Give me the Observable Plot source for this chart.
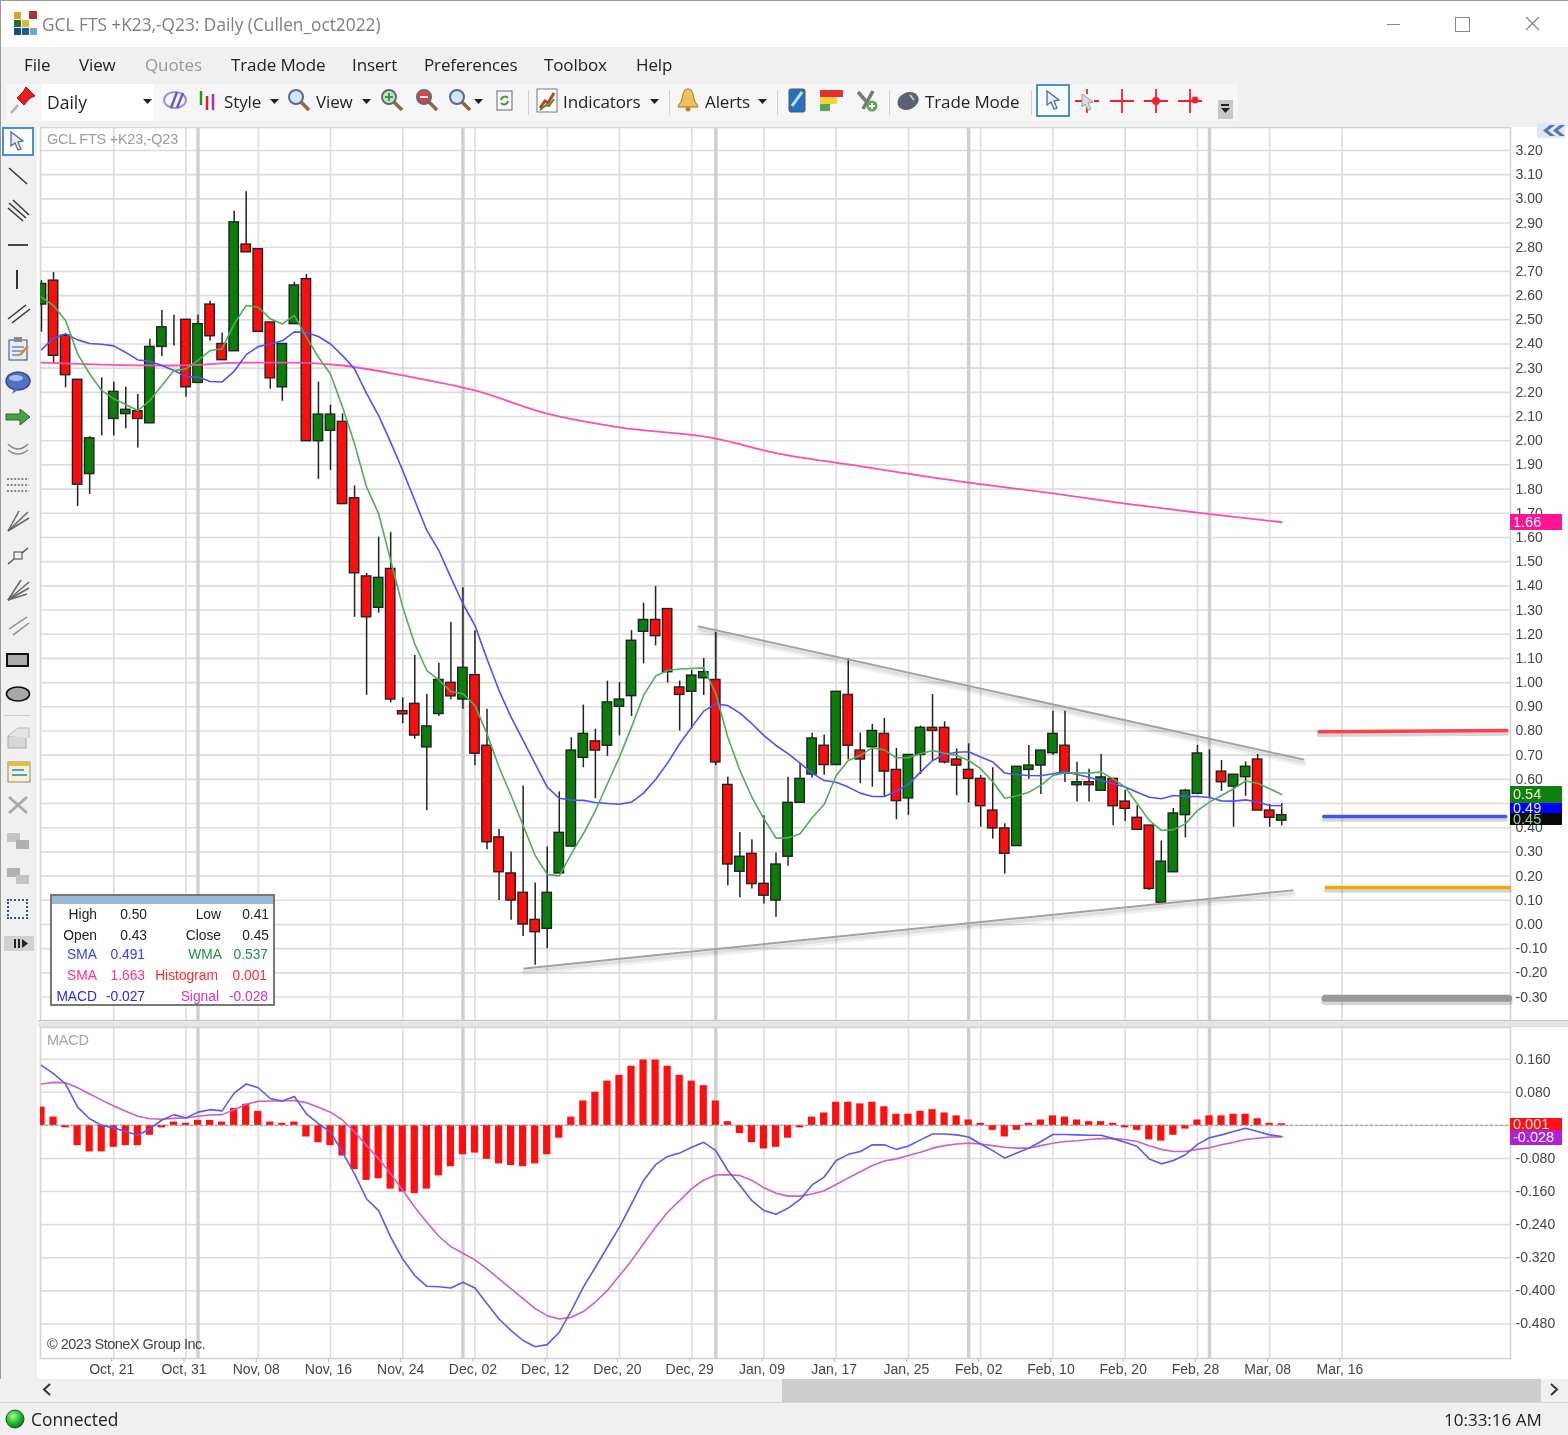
<!DOCTYPE html>
<html>
<head>
<meta charset="utf-8">
<title>GCL FTS +K23,-Q23: Daily</title>
<script src="https://cdn.jsdelivr.net/npm/d3@7"></script>
<script src="https://cdn.jsdelivr.net/npm/@observablehq/plot@0.6"></script>
<style>
html,body{margin:0;padding:0;background:#fff;overflow:hidden}
#root{position:relative;width:1568px;height:1435px;overflow:hidden;background:#fff;font-family:"Open Sans",sans-serif;filter:blur(.4px)}
.t{position:absolute;white-space:nowrap;line-height:1;color:#333}
.b{position:absolute}
.ic{position:absolute;overflow:visible}
.lg{position:absolute;white-space:nowrap;line-height:1;font:13.8px "Liberation Sans",sans-serif;transform:translateX(-100%)}
.tag{position:absolute;left:1510px;width:52px;color:#fff;font:14.5px "Liberation Sans",sans-serif;line-height:1;padding-left:3px;box-sizing:border-box;overflow:hidden}
</style>
</head>
<body>
<div id="root"></div>
<script>
// ---------- price series (daily OHLC of the spread) ----------
const opens = [2.563,2.662,2.434,2.252,1.862,2.107,2.09,2.11,2.122,2.072,2.388,2.482,2.5,2.239,2.563,2.4,2.37,2.811,2.792,2.489,2.221,2.482,2.668,1.998,2.041,2.078,1.762,1.439,1.309,1.47,.882,.912,.732,.87,.999,.93,1.031,.739,.36,.211,.131,.019,-.018,.211,.322,.689,.757,.739,.9,.944,1.21,1.259,1.304,.98,.962,1.018,1.011,.577,.218,.292,.168,.099,.28,.503,.62,.739,.659,.949,.719,.733,.788,.639,.521,.701,.813,.813,.682,.639,.602,.471,.397,.324,.639,.657,.708,.739,.576,.588,.553,.602,.508,.441,.409,.09,.216,.452,.54,.657,.632,.57,.609,.682,.471,.429];
const closes = [2.648,2.351,2.271,1.818,2.01,2.107,2.202,2.128,2.09,2.388,2.469,2.482,2.221,2.482,2.432,2.333,2.903,2.779,2.45,2.258,2.4,2.642,1.998,2.108,2.108,1.738,1.452,1.27,1.433,.93,.869,.781,.819,1.011,.943,1.061,.706,.34,.216,.099,0,-.032,.131,.379,.719,.788,.719,.918,.93,1.173,1.259,1.192,1.043,.949,1.029,1.043,.67,.248,.28,.167,.119,.248,.503,.602,.769,.659,.962,.739,.682,.8,.632,.51,.701,.813,.8,.67,.657,.602,.489,.397,.292,.652,.657,.719,.788,.623,.588,.576,.608,.489,.478,.391,.147,.26,.459,.553,.707,.657,.588,.619,.652,.471,.441,.452];
const highs = [2.662,2.695,2.44,2.252,2.017,2.26,2.242,2.221,2.191,2.42,2.538,2.519,2.5,2.519,2.577,2.445,2.949,3.029,2.792,2.489,2.4,2.655,2.687,2.242,2.147,2.111,1.813,1.452,1.601,1.62,.937,1.112,.951,1.08,1.248,1.392,1.213,.89,.394,.3,.573,.171,.32,.548,.772,.907,.807,1.006,1,1.215,1.328,1.397,1.304,1.006,1.05,1.1,1.207,.609,.38,.35,.449,.295,.609,.667,.791,.783,.962,1.1,.791,.827,.852,.728,.701,.82,.951,.838,.726,.747,.616,.648,.416,.652,.74,.719,.882,.882,.671,.642,.703,.602,.554,.491,.409,.345,.48,.559,.74,.722,.678,.619,.672,.703,.496,.5];
const lows = [2.449,2.321,2.219,1.728,1.778,2.02,2.02,2.05,1.97,2.072,2.348,2.392,2.18,2.239,2.411,2.333,2.37,2.779,2.45,2.213,2.163,2.482,1.998,1.84,1.877,1.738,1.27,.948,1.287,.916,.83,.766,.471,.86,.929,.89,.656,.309,.099,.017,-.05,-.169,-.1,.211,.322,.648,.52,.695,.78,.86,1.078,1.152,.998,.8,.809,.947,.656,.16,.11,.147,.085,.03,.241,.503,.606,.617,.659,.681,.582,.568,.526,.433,.451,.62,.678,.664,.532,.502,.402,.353,.209,.324,.6,.537,.699,.587,.506,.506,.553,.408,.426,.391,.141,.09,.216,.358,.54,.524,.55,.402,.53,.471,.402,.408];
const smaBlue = [2.376,2.424,2.442,2.417,2.402,2.399,2.392,2.365,2.334,2.329,2.311,2.29,2.265,2.263,2.245,2.243,2.287,2.356,2.389,2.4,2.413,2.45,2.447,2.431,2.4,2.352,2.297,2.195,2.104,1.993,1.877,1.753,1.629,1.546,1.434,1.326,1.236,1.098,.967,.857,.761,.664,.568,.522,.514,.513,.504,.5,.497,.506,.543,.599,.668,.747,.816,.882,.912,.905,.874,.83,.781,.74,.706,.667,.626,.595,.588,.568,.543,.529,.529,.551,.579,.63,.678,.703,.712,.714,.692,.672,.626,.619,.616,.615,.623,.632,.62,.609,.595,.582,.568,.547,.526,.52,.533,.529,.529,.525,.511,.51,.515,.506,.492,.491];
const wmaGreen = [2.593,2.559,2.497,2.359,2.276,2.208,2.173,2.15,2.125,2.166,2.228,2.29,2.297,2.332,2.373,2.38,2.483,2.559,2.552,2.504,2.483,2.518,2.428,2.345,2.276,2.139,1.987,1.808,1.698,1.505,1.312,1.16,1.05,1.011,.963,.954,.905,.788,.65,.533,.409,.285,.207,.201,.292,.375,.471,.582,.692,.816,.947,1.027,1.05,1.056,1.058,1.061,.954,.774,.637,.526,.437,.357,.358,.375,.441,.496,.616,.678,.699,.73,.722,.689,.689,.706,.719,.708,.699,.678,.644,.59,.522,.531,.547,.575,.616,.626,.627,.626,.63,.602,.568,.499,.43,.389,.391,.416,.471,.506,.533,.561,.593,.584,.561,.537];
const smaPinkBars = [0,5,11,17,21,25,30,36,42,48,56,61,67,77,84,90,96,103];
const smaPink = [2.323,2.315,2.311,2.323,2.323,2.311,2.27,2.208,2.112,2.055,2.009,1.949,1.902,1.827,1.782,1.74,1.703,1.663];
// ---------- MACD series ----------
const histogram = [.044,.02,-.006,-.049,-.064,-.064,-.053,-.049,-.049,-.024,-.006,.008,.005,.012,.012,.008,.041,.051,.034,.008,.005,.008,-.028,-.042,-.049,-.074,-.107,-.133,-.129,-.154,-.161,-.165,-.154,-.122,-.1,-.071,-.067,-.082,-.093,-.097,-.1,-.093,-.071,-.031,.02,.059,.08,.107,.121,.143,.158,.158,.143,.121,.107,.096,.059,.009,-.02,-.042,-.057,-.053,-.031,-.006,.02,.03,.056,.056,.052,.056,.045,.027,.027,.034,.038,.03,.023,.013,.005,-.012,-.028,-.012,.005,.013,.023,.02,.013,.009,.009,.005,-.006,-.012,-.035,-.038,-.024,-.009,.013,.023,.023,.027,.027,.016,.005,.004];
const macd = [.145,.125,.1,.044,.016,0,-.006,-.015,-.024,-.008,.013,.026,.018,.032,.038,.035,.078,.1,.091,.065,.059,.07,.028,.004,-.016,-.065,-.117,-.178,-.206,-.27,-.323,-.363,-.389,-.39,-.393,-.379,-.393,-.431,-.468,-.496,-.52,-.535,-.53,-.5,-.448,-.391,-.343,-.294,-.246,-.19,-.133,-.095,-.075,-.067,-.053,-.041,-.061,-.109,-.145,-.182,-.206,-.215,-.2,-.179,-.144,-.125,-.085,-.07,-.063,-.047,-.047,-.058,-.05,-.035,-.021,-.021,-.023,-.028,-.045,-.061,-.079,-.067,-.055,-.039,-.022,-.022,-.023,-.024,-.024,-.032,-.041,-.051,-.081,-.093,-.085,-.071,-.046,-.03,-.023,-.015,-.007,-.015,-.023,-.027];
const signal = [.1,.104,.103,.091,.076,.061,.047,.034,.022,.016,.015,.017,.018,.022,.025,.026,.038,.051,.058,.059,.059,.06,.055,.044,.032,.013,-.016,-.049,-.081,-.117,-.157,-.198,-.234,-.268,-.293,-.309,-.325,-.347,-.371,-.395,-.419,-.443,-.46,-.468,-.464,-.45,-.427,-.399,-.363,-.327,-.286,-.246,-.21,-.182,-.153,-.132,-.12,-.119,-.121,-.133,-.151,-.164,-.171,-.171,-.166,-.158,-.143,-.127,-.112,-.097,-.086,-.081,-.073,-.065,-.055,-.049,-.045,-.043,-.045,-.049,-.053,-.055,-.055,-.049,-.043,-.039,-.037,-.034,-.032,-.032,-.034,-.039,-.049,-.058,-.063,-.063,-.058,-.054,-.047,-.041,-.034,-.031,-.028,-.028];
// ---------- axes ----------
const priceTicks = [3.2,3.1,3,2.9,2.8,2.7,2.6,2.5,2.4,2.3,2.2,2.1,2,1.9,1.8,1.7,1.6,1.5,1.4,1.3,1.2,1.1,1,.9,.8,.7,.6,.5,.4,.3,.2,.1,0,-.1,-.2,-.3];
const macdTicks = [.16,.08,-.08,-.16,-.24,-.32,-.4,-.48];
const macdGrid = [.16,.08,0,-.08,-.16,-.24,-.32,-.4,-.48];
const dateBars = [6,12,18,24,30,36,42,48,54,60,66,72,78,84,90,96,102,108];
const dateLabels = ["Oct, 21","Oct, 31","Nov, 08","Nov, 16","Nov, 24","Dec, 02","Dec, 12","Dec, 20","Dec, 29","Jan, 09","Jan, 17","Jan, 25","Feb, 02","Feb, 10","Feb, 20","Feb, 28","Mar, 08","Mar, 16"];
const monthBars = [13,35,56,77,97];
// ---------- drawn trend lines and level lines (bar, price) ----------
const upperTrend = [[54.57,1.232],[104.8,.682]];
const lowerTrend = [[40.1,-.182],[103.9,.141]];
const levels = [
  {x1:106.1,x2:121.7,y1:.797,y2:.802,c:"#ff4048",w:3.5},
  {x1:106.5,x2:121.6,y1:.446,y2:.446,c:"#4055f0",w:3.5},
  {x1:106.7,x2:121.9,y1:.153,y2:.153,c:"#f5a800",w:3.5},
  {x1:106.6,x2:121.85,y1:-.305,y2:-.305,c:"#999999",w:7}
];
const legendRows = [
  ["High",97,914,"#222"],["0.50",147,914,"#222"],["Low",221,914,"#222"],["0.41",269,914,"#222"],
  ["Open",97,935,"#222"],["0.43",147,935,"#222"],["Close",221,935,"#222"],["0.45",269,935,"#222"],
  ["SMA",97,954,"#3a3aff"],["0.491",145,954,"#3a3aff"],["WMA",222,954,"#1f8f4a"],["0.537",268,954,"#1f8f4a"],
  ["SMA",97,975,"#ff2f88"],["1.663",145,975,"#ff2f88"],["Histogram",218,975,"#ff2a2a"],["0.001",267,975,"#ff2a2a"],
  ["MACD",97,996,"#2a2aee"],["-0.027",145,996,"#2a2aee"],["Signal",219,996,"#cc33cc"],["-0.028",268,996,"#cc33cc"]
];

const bars = opens.map((o,i)=>({i,o,c:closes[i],h:highs[i],l:lows[i]}));
const GRID = "#dcdcdc", AXIS = "#444";
const xDomain = [-0.083,122];
const root = document.getElementById("root");

function pos(top,h){return {position:"absolute",left:"0px",top:top+"px",width:"1568px",height:h+"px",maxWidth:"none",background:"transparent",overflow:"visible"};}
const shadow = (data)=>[
  Plot.line(data,{x:"0",y:"1",stroke:"#000",strokeOpacity:.06,strokeWidth:6,dy:4}),
  Plot.line(data,{x:"0",y:"1",stroke:"#000",strokeOpacity:.07,strokeWidth:3,dy:3}),
  Plot.line(data,{x:"0",y:"1",stroke:"#a2a2a2",strokeWidth:2})
];

const pricePlot = Plot.plot({
  width:1568,height:893,marginLeft:40,marginRight:58,marginTop:0,marginBottom:0,
  style:{...pos(127,893),font:'14px "Liberation Sans",sans-serif'},
  x:{domain:xDomain,axis:null},
  y:{domain:[-.397,3.295]},
  marks:[
    Plot.ruleY(priceTicks,{stroke:GRID,strokeWidth:1.6}),
    Plot.ruleX(dateBars,{stroke:GRID,strokeWidth:1.6}),
    Plot.ruleX(monthBars,{stroke:"#cfcfcf",strokeWidth:3.4}),
    Plot.frame({stroke:"#d4d4d4",strokeWidth:1.6}),
    Plot.ruleX(bars,{x:"i",y1:"l",y2:"h",stroke:"#222",strokeWidth:1.5,clip:true}),
    Plot.rect(bars,{x1:d=>d.i-.39,x2:d=>d.i+.39,y1:"o",y2:"c",fill:d=>d.c>d.o?"#0b7d0b":"#ff0d0d",stroke:"#222",strokeWidth:1.4,clip:true}),
    Plot.line(smaPink,{x:(d,k)=>smaPinkBars[k],y:d=>d,stroke:"#ff4db0",strokeWidth:1.8,clip:true,curve:"monotone-x"}),
    Plot.line(smaBlue,{x:(d,k)=>k,y:d=>d,stroke:"#4f4fff",strokeWidth:1.6,clip:true}),
    Plot.line(wmaGreen,{x:(d,k)=>k,y:d=>d,stroke:"#4fae58",strokeWidth:1.6,clip:true}),
    ...shadow(upperTrend),...shadow(lowerTrend),
    Plot.link(levels,{x1:"x1",x2:"x2",y1:"y1",y2:"y2",stroke:"#000",strokeOpacity:.16,strokeWidth:d=>d.w+1,dy:3,strokeLinecap:"round"}),
    Plot.link(levels,{x1:"x1",x2:"x2",y1:"y1",y2:"y2",stroke:"c",strokeWidth:"w",strokeLinecap:"round"}),
    Plot.axisY({anchor:"right",ticks:priceTicks,tickSize:0,tickPadding:5,tickFormat:d=>d.toFixed(2),color:AXIS,fill:AXIS,label:null,fontSize:14})
  ]
});
root.appendChild(pricePlot);

const macdPlot = Plot.plot({
  width:1568,height:351,marginLeft:40,marginRight:58,marginTop:0,marginBottom:20,
  style:{...pos(1027,351),font:'14px "Liberation Sans",sans-serif'},
  x:{domain:xDomain},
  y:{domain:[-.5635,.2366]},
  marks:[
    Plot.ruleY(macdGrid,{stroke:GRID,strokeWidth:1.6}),
    Plot.ruleX(dateBars,{stroke:GRID,strokeWidth:1.6}),
    Plot.ruleX(monthBars,{stroke:"#cfcfcf",strokeWidth:3.4}),
    Plot.frame({stroke:"#d4d4d4",strokeWidth:1.6}),
    Plot.rect(histogram,{x1:(d,k)=>k-.3,x2:(d,k)=>k+.3,y1:0,y2:d=>d,fill:"#ff0f0f",clip:true}),
    Plot.ruleY([0],{stroke:"#999",strokeWidth:1,strokeDasharray:"3,2"}),
    Plot.line(signal,{x:(d,k)=>k,y:d=>d,stroke:"#cf5ccf",strokeWidth:1.6,clip:true}),
    Plot.line(macd,{x:(d,k)=>k,y:d=>d,stroke:"#5a5af0",strokeWidth:1.6,clip:true}),
    Plot.axisY({anchor:"right",ticks:macdTicks,tickSize:0,tickPadding:5,tickFormat:d=>d.toFixed(3),color:AXIS,fill:AXIS,label:null,fontSize:14}),
    Plot.axisX({ticks:dateBars,tickSize:4,tickPadding:2,tickFormat:d=>dateLabels[dateBars.indexOf(d)],color:AXIS,fill:AXIS,stroke:"#bbb",label:null,fontSize:14,dx:-2})
  ]
});
root.appendChild(macdPlot);

// ---------- window chrome ----------
function box(x,y,w,h,bg,extra){const d=document.createElement("div");d.className="b";d.style.cssText=`left:${x}px;top:${y}px;width:${w}px;height:${h}px;background:${bg};${extra||""}`;root.appendChild(d);return d;}
function text(s,x,y,size,color,extra){const d=document.createElement("div");d.className="t";d.textContent=s;d.style.cssText=`left:${x}px;top:${y}px;font-size:${size}px;color:${color};${extra||""}`;root.appendChild(d);return d;}
function svg(x,y,w,h,inner){const n=document.createElementNS("http://www.w3.org/2000/svg","svg");n.setAttribute("class","ic");n.setAttribute("width",w);n.setAttribute("height",h);n.setAttribute("viewBox",`0 0 ${w} ${h}`);n.style.left=x+"px";n.style.top=y+"px";n.innerHTML=inner;root.appendChild(n);}
const caret=(x,y)=>svg(x,y,9,5,'<path d="M0 0h9L4.5 5z" fill="#222"/>');
const UI="letter-spacing:-.12px";

// bands
box(0,0,1568,47,"#fff");
box(0,47,1568,37,"#f0f0f0");
box(0,84,1568,38,"#f0f0f0");
box(6,84,1232,37,"#f6f6f6");
box(0,122,37,1257,"#f0f0f0");
box(0,122,1568,5,"#f0f0f0");
box(38,1020,1530,7,"#e6e6e6","border-top:1.5px solid #c8c8c8;border-bottom:1px solid #ddd;box-sizing:border-box");
box(0,0,1568,1,"#9a9a9a");box(0,0,1,1435,"#9a9a9a");

// title bar
[[14,12,"#e8a020"],[22,12,"#fff"],[14,20,"#2a6a3a"],[22,20,"#d0c030"],[30,20,"#fff"],[14,28,"#1a4a7a"],[22,28,"#1a5a9a"],[30,28,"#6aa8d8"]].forEach(a=>box(a[0],a[1],7,7,a[2]));
box(29,11,8,8,"#b03038");
text("GCL FTS +K23,-Q23: Daily (Cullen_oct2022)",42,16,17.3,"#7e7e7e");
box(1387,24,13,1,"#888");
box(1455,17,13,13,"transparent","border:1.4px solid #888");
svg(1525,16,15,15,'<path d="M1 1L14 14M14 1L1 14" stroke="#888" stroke-width="1.3"/>');

// menu
[["File",24,"#222"],["View",79,"#222"],["Quotes",145,"#999"],["Trade Mode",231,"#222"],["Insert",352,"#222"],["Preferences",424,"#222"],["Toolbox",544,"#222"],["Help",636,"#222"]].forEach(m=>text(m[0],m[1],56,17,m[2],UI));

// toolbar
box(42,84,112,37,"#fff");
text("Daily",47,94,17.5,"#222");caret(143,99);
svg(9,86,28,28,'<path d="M17 1l9 9-5 2-6 7-7-7 6-6z" fill="#e62020" stroke="#a01010"/><path d="M9 19l-7 8" stroke="#b0b0b0" stroke-width="2.4"/>');
svg(163,89,24,22,'<ellipse cx="12" cy="11" rx="11" ry="8" fill="none" stroke="#9a90e0" stroke-width="2"/><path d="M8 19L14 3M14 19L20 4" stroke="#6a58c8" stroke-width="2.4"/>');
svg(198,90,20,22,'<path d="M3 1v14" stroke="#1a9a1a" stroke-width="2.5"/><path d="M9 6v14" stroke="#e02020" stroke-width="2.5"/><path d="M15 4v16" stroke="#a030c0" stroke-width="2.5"/>');
text("Style",224,93,17,"#222",UI);caret(270,99);
const mag=(x,y,c,ex)=>svg(x,y,24,24,`<circle cx="9" cy="9" r="7" fill="${c}" stroke="#5a6a80" stroke-width="2"/><path d="M14 14l8 8" stroke="#8a6a40" stroke-width="3.5"/>${ex||""}`);
mag(287,88,"#cfe6ff");text("View",316,93,17,"#222",UI);caret(362,99);
mag(380,88,"#bfe5bf",'<path d="M5 9h8M9 5v8" stroke="#3a9a3a" stroke-width="2"/>');
mag(415,88,"#e04040",'<path d="M5 9h8" stroke="#fff" stroke-width="2"/>');
mag(448,88,"#cfe6ff");caret(474,99);
svg(496,90,17,21,'<rect x="1" y="1" width="15" height="19" fill="#f6f6ff" stroke="#667"/><path d="M5 10a4 4 0 0 1 7-2M12 11a4 4 0 0 1-7 2" fill="none" stroke="#5a9a2a" stroke-width="2"/>');
[528,669,777,889,1031].forEach(x=>box(x,90,1,25,"#cfcfcf"));
svg(536,88,22,25,'<rect x="1" y="1" width="20" height="23" fill="#fff" stroke="#777"/><path d="M4 20l5-7 3 2 6-10" fill="none" stroke="#c04020" stroke-width="3"/><path d="M4 22l6-5 3 1 5-7" fill="none" stroke="#40902a" stroke-width="2"/>');
text("Indicators",563,93,17,"#222",UI);caret(650,99);
svg(677,88,22,24,'<path d="M11 1c5 0 5 6 6 10s4 6 4 8H1c0-2 3-4 4-8s1-10 6-10z" fill="#eec060" stroke="#a07020"/><circle cx="11" cy="21" r="2.5" fill="#c08020"/>');
text("Alerts",705,93,17,"#222",UI);caret(758,99);
svg(788,88,18,25,'<rect x="1" y="1" width="16" height="23" rx="2" fill="#2a70c0" stroke="#555"/><path d="M4 18L14 4" stroke="#bfe6ff" stroke-width="3"/>');
svg(820,90,23,21,'<rect width="23" height="7" fill="#e03030"/><rect y="7" width="17" height="7" fill="#f8d040"/><rect y="14" width="10" height="7" fill="#50a850"/>');
svg(855,89,23,23,'<path d="M3 3l15 17M18 2L8 20" stroke="#777" stroke-width="3.5"/><circle cx="17" cy="17" r="5.5" fill="#5aaa50"/><path d="M14 17h6M17 14v6" stroke="#fff" stroke-width="1.8"/>');
svg(896,90,24,21,'<ellipse cx="12" cy="11" rx="11" ry="8.5" transform="rotate(-25 12 11)" fill="#5a6470"/><path d="M14 5l4 5" stroke="#ccc" stroke-width="2"/>');
text("Trade Mode",925,93,17,"#222",UI);
box(1036,84,34,33,"#f6fbff","border:2px solid #4a90d0;box-sizing:border-box");
const arrow=(x,y,f)=>svg(x,y,14,20,`<path d="M1 1l0 14 4-3 3 7 3-1-3-7 5-1z" fill="${f}" stroke="#5a6a88" stroke-width="1.3"/>`);
arrow(1046,90,"#e8eefc");
const cross=(x,ex)=>svg(x-13,88,26,26,`<path d="M1 13h24M13 1v24" stroke="#f02030" stroke-width="1.8"/>${ex||""}`);
cross(1087,'<rect x="8" y="6" width="12" height="14" fill="#f6f6f6"/><path d="M8 6l0 13 3-3 3 6 3-1-3-6 5-1z" fill="#ddd" stroke="#999"/>');
cross(1122);cross(1156,'<circle cx="13" cy="13" r="4" fill="#f02030"/>');cross(1190,'<circle cx="18" cy="12" r="3.5" fill="#f02030"/>');
box(1218,100,15,19,"#c8c8c8");box(1221,104,8,1.5,"#222");svg(1221,108,9,6,'<path d="M0 0h9L4.5 5z" fill="#222"/>');

// left tools
box(2,127,32,29,"#fbfdff","border:2px solid #4a90d0;box-sizing:border-box");
arrow(10,131,"#e6ecfa");
const tool=(y,inner)=>svg(5,y-14,26,28,inner);
const ln=(a,b,c,d,w,col)=>`<path d="M${a} ${b}L${c} ${d}" stroke="${col||'#333'}" stroke-width="${w||1.5}"/>`;
tool(176,ln(4,6,22,22));
tool(210,ln(4,7,21,22)+ln(8,4,24,19)+ln(3,12,18,25));
tool(245,ln(3,14,23,14,1.8));
tool(280,ln(12,4,12,23,2));
tool(314,ln(3,19,21,5)+ln(7,23,25,9));
tool(349,'<rect x="4" y="5" width="18" height="20" fill="#e4ecf8" stroke="#446"/><rect x="9" y="2" width="8" height="5" fill="#889"/><path d="M7 12h12M7 16h12M7 20h8" stroke="#557"/><path d="M15 20l8-9" stroke="#d09020" stroke-width="2.5"/>');
tool(383,'<ellipse cx="13" cy="12" rx="12" ry="9" fill="#5070c8" stroke="#344a8a" stroke-width="1.4"/><ellipse cx="11" cy="9" rx="7" ry="3" fill="#a8c0ee"/><path d="M9 20l-2 5 6-4" fill="#5070c8"/>');
tool(417,'<path d="M1 11h14V6l10 8-10 8v-5H1z" fill="#48a048" stroke="#2a6a2a"/>');
tool(450,'<path d="M3 8q10 10 20 0M3 14q10 8 20 0" fill="none" stroke="#888" stroke-width="1.6"/>');
tool(485,'<path d="M2 8h22M2 14h22M2 20h22" stroke="#666" stroke-dasharray="2,1.6" stroke-width="1.3"/>');
tool(521,ln(3,24,23,5,1.5,'#666')+ln(3,24,24,11,1.5,'#666')+ln(3,24,14,4,1.5,'#666'));
tool(556,ln(3,22,9,17,1.5,'#555')+ln(17,11,23,6,1.5,'#555')+'<rect x="9" y="10" width="8" height="7" fill="none" stroke="#444"/>');
tool(590,ln(3,24,24,6,1.5,'#666')+ln(3,24,24,12,1.5,'#666')+ln(3,24,22,18,1.5,'#666')+ln(3,24,16,4,1.5,'#666'));
tool(625,ln(4,18,22,6,1.5,'#888')+ln(8,24,24,12,1.5,'#888'));
box(6,653,23,14,"#aaa","border:2px solid #111;box-sizing:border-box");
svg(5,685,26,18,'<ellipse cx="13" cy="9" rx="11.5" ry="7" fill="#a8a8a8" stroke="#111" stroke-width="1.6"/>');
box(4,715,26,1,"#ccc");
tool(738,'<rect x="3" y="12" width="18" height="12" fill="#d8d8d8" stroke="#aaa"/><path d="M3 12l10-8h11v10" fill="#e4e4e4" stroke="#bbb"/>');
tool(772,'<rect x="3" y="4" width="22" height="20" fill="#f4f0d0" stroke="#888"/><rect x="3" y="4" width="22" height="4" fill="#e0c040"/><path d="M7 12h12M7 17h15" stroke="#4aa0d0" stroke-width="2"/>');
tool(805,ln(4,6,22,22,3,'#aaa')+ln(22,6,4,22,3,'#aaa'));
tool(840,'<rect x="2" y="7" width="13" height="9" fill="#c4c4c4"/><rect x="11" y="14" width="13" height="9" fill="#b0b0b0"/>');
tool(875,'<rect x="2" y="7" width="13" height="9" fill="#b0b0b0"/><rect x="11" y="14" width="13" height="9" fill="#c4c4c4"/>');
box(7,899,21,20,"transparent","border:2px dotted #2a5a8a;box-sizing:border-box");
box(4,936,30,15,"#d0d0d0");svg(14,939,14,9,'<path d="M0 0h2v9H0zM4 0h2v9H4zM8 0l6 4.5L8 9z" fill="#222"/>');

// pane captions
const PANE='font-family:"Liberation Sans",sans-serif;letter-spacing:-.25px';
text("GCL FTS +K23,-Q23",47,132,14.5,"#9c9c9c",PANE);
text("MACD",47,1033,14.5,"#a4a4a4",PANE);
text("\u00a9 2023 StoneX Group Inc.",47,1337,14.5,"#444",'font-family:"Liberation Sans",sans-serif;letter-spacing:-.5px');
box(1537,123,28,15,"#dfe7f2");
svg(1538,124,27,13,'<path d="M12 1L5 6.5 12 12h5L10 6.5 17 1zM22 1L15 6.5 22 12h5L20 6.5 27 1z" fill="#5a78a0"/>');

// legend
box(50,894,225,112,"#fff","border:2px solid #777;box-sizing:border-box");
box(52,896,221,8,"#9bb9d6");
legendRows.forEach(r=>{const d=document.createElement("div");d.className="lg";d.textContent=r[0];d.style.left=r[1]+"px";d.style.top=(r[2]-7)+"px";d.style.color=r[3];root.appendChild(d);});

// value tags
function tag(s,y,h,bg,col,lh){const d=document.createElement("div");d.className="tag";d.textContent=s;d.style.cssText+=`top:${y}px;height:${h}px;background:${bg};color:${col};line-height:${lh||h}px`;root.appendChild(d);}
tag("1.66",514,16,"#ff1493","#fff");
tag("0.54",786,17,"#0f7f0f","#f4f4d0");
tag("0.45",813,12,"#0a0a0a","#9fd08f");
tag("0.49",803,10,"#0000ff","#e8e8ff",11);
tag("0.001",1118,12,"#ff1010","#ffe8e8");
tag("-0.028",1130,15,"#b020d8","#fff");

// scrollbar & status bar
box(37,1379,1531,23,"#f0f0f0");
box(782,1379,759,23,"#cdcdcd");
svg(42,1383,9,13,'<path d="M8 1L2 6.5 8 12" fill="none" stroke="#333" stroke-width="2"/>');
svg(1550,1383,9,13,'<path d="M1 1l6 5.5L1 12" fill="none" stroke="#333" stroke-width="2"/>');
box(0,1379,37,23,"#f0f0f0");
box(0,1402,1568,33,"#f0f0f0","border-top:1px solid #d8d8d8;box-sizing:border-box");
svg(5,1409,20,20,'<defs><radialGradient id="led" cx=".4" cy=".35" r=".7"><stop offset="0" stop-color="#a8f5a0"/><stop offset=".55" stop-color="#1fc02a"/><stop offset="1" stop-color="#0a6a14"/></radialGradient></defs><circle cx="10" cy="10" r="9" fill="url(#led)" stroke="#1a5a20"/>');
text("Connected",31,1411,17.4,"#222");
text("10:33:16 AM",1444,1411,17,"#222");
</script>
</body>
</html>
